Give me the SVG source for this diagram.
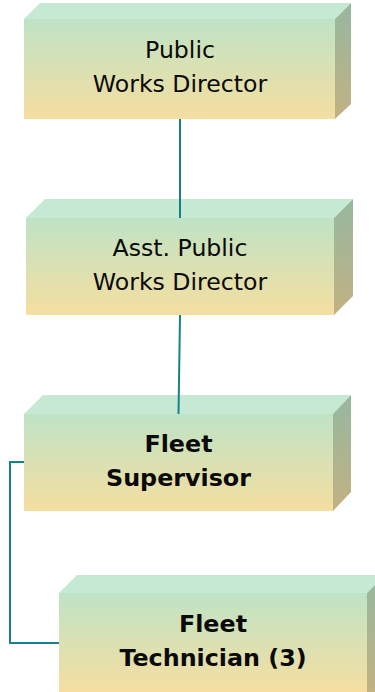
<svg xmlns="http://www.w3.org/2000/svg" width="375" height="692" viewBox="0 0 375 692">
<defs>
<linearGradient id="gf" x1="0" y1="0" x2="0" y2="1">
<stop offset="0" stop-color="#bfe3c6"/>
<stop offset="1" stop-color="#f5dea0"/>
</linearGradient>
<linearGradient id="gs" x1="0" y1="0" x2="0" y2="1">
<stop offset="0" stop-color="#96b89f"/>
<stop offset="1" stop-color="#c2b183"/>
</linearGradient>
<style>
.top{fill:#c6e9d4}
.front{fill:url(#gf)}
.side{fill:url(#gs)}
.t{font-family:"DejaVu Sans",Verdana,sans-serif;font-size:23.6px;fill:#0a0a0a;text-anchor:middle}
.b{font-weight:bold;font-size:23.8px}
.c{fill:none;stroke:#17808a;stroke-width:2}
</style>
</defs>
<g id="n1">
<polygon class="top" points="24,19 40,3 351,3 335,19"/>
<polygon class="side" points="335,19 351,3 351,104 335,119"/>
<rect class="front" x="24" y="19" width="311" height="100"/>
<text class="t" x="180" y="57.5">Public</text>
<text class="t" x="180" y="91.5">Works Director</text>
</g>
<g id="n2">
<polygon class="top" points="26,218 45,199 353,199 334,218"/>
<polygon class="side" points="334,218 353,199 353,296 334,315"/>
<rect class="front" x="26" y="218" width="308" height="97"/>
<text class="t" x="180" y="256">Asst. Public</text>
<text class="t" x="180" y="290">Works Director</text>
</g>
<g id="n3">
<polygon class="top" points="24,414 43,395 351,395 333,414"/>
<polygon class="side" points="333,414 351,395 351,492 333,511"/>
<rect class="front" x="24" y="414" width="309" height="97"/>
<text class="t b" x="178.5" y="452">Fleet</text>
<text class="t b" x="178.5" y="486">Supervisor</text>
</g>
<g id="n4">
<polygon class="top" points="59,593 77,575 385,575 367,593"/>
<polygon class="side" points="367,593 385,575 385,692 367,692"/>
<rect class="front" x="59" y="593" width="308" height="99"/>
<text class="t b" x="213" y="632">Fleet</text>
<text class="t b" x="213" y="666">Technician (3)</text>
</g>
<g id="connectors">
<line class="c" x1="180" y1="119" x2="180" y2="218"/>
<line class="c" x1="180" y1="315" x2="178.5" y2="414"/>
<polyline class="c" points="24,462 10,462 10,643 59,643"/>
</g>
</svg>
